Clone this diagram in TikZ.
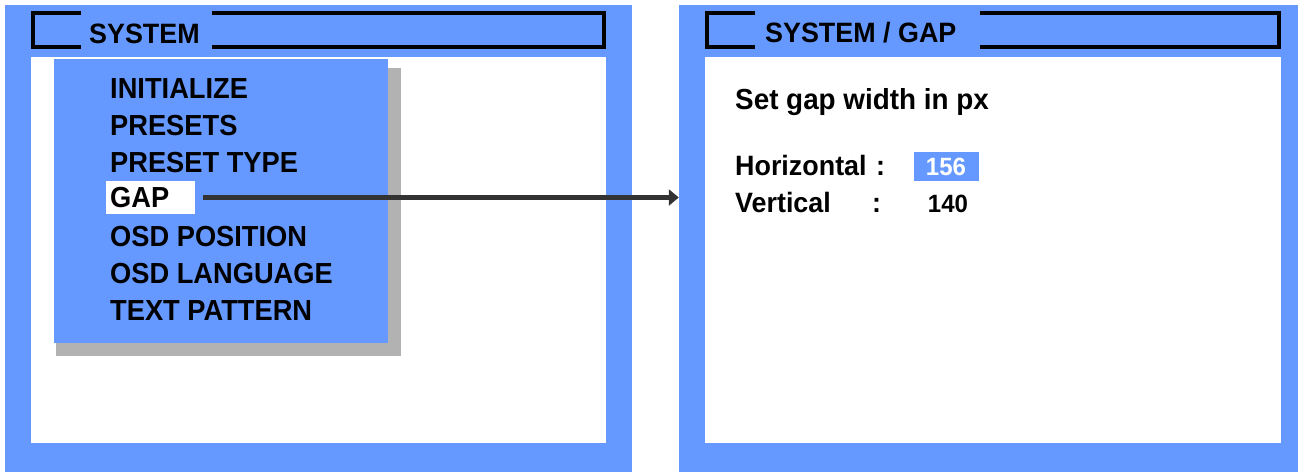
\documentclass[tikz,border=0pt]{standalone}
\usepackage{fontspec}
\setsansfont{Liberation Sans}[FakeStretch=0.94]
\newfontfamily\pagefont{Liberation Sans}[FakeStretch=0.96]
\usetikzlibrary{fit,arrows.meta}
\definecolor{osdblue}{HTML}{6699FF}
\definecolor{osdshadow}{HTML}{B2B2B2}
\definecolor{osdarrow}{HTML}{333333}
\tikzset{
  panel/.style={fill=osdblue, inner sep=0pt, draw=none},
  screen/.style={fill=white, inner sep=0pt, draw=none},
  frameline/.style={draw=black, line width=4pt, line cap=rect},
  osdtext/.style={anchor=base west, inner sep=0pt, text=black,
    font=\pagefont\bfseries\fontsize{28}{28}\selectfont},
  hinttext/.style={osdtext, font=\pagefont\bfseries\fontsize{29}{29}\selectfont},
  menuitem/.style={anchor=base west, inner sep=0pt, text=black,
    font=\sffamily\bfseries\fontsize{29}{29}\selectfont},
  valuetext/.style={anchor=base, inner sep=0pt,
    font=\pagefont\bfseries\fontsize{25}{25}\selectfont},
  link/.style={draw=osdarrow, line width=4.5pt,
    -{Triangle[length=10pt,width=16pt]}}
}
\begin{document}
\begin{tikzpicture}[x=1pt, y=-1pt]
\useasboundingbox (0,0) rectangle (1298,472);

% ---- left screen: SYSTEM menu ----
\node[panel, fit={(5,5) (632,472)}] (leftpanel) {};
\node[screen, fit={(31,57) (606,443)}] (leftscreen) {};
\draw[frameline] (79,13) -- (33,13) -- (33,47) -- (79,47);
\draw[frameline] (214,13) -- (604,13) -- (604,47) -- (214,47);
\node[osdtext] (lefttitle) at (89,43) {SYSTEM};

\node[fill=osdshadow, inner sep=0pt, fit={(56,68) (401,356)}] (menushadow) {};
\node[panel, fit={(54,59) (388,343)}] (menu) {};
\node[screen, fit={(106,181) (195,214)}] (gapitem) {};

\node[menuitem] (m1) at (110,98)  {INITIALIZE};
\node[menuitem] (m2) at (110,135) {PRESETS};
\node[menuitem] (m3) at (110,172) {PRESET TYPE};
\node[menuitem] (m4) at (110,207) {GAP};
\node[menuitem] (m5) at (110,246) {OSD POSITION};
\node[menuitem] (m6) at (110,283) {OSD LANGUAGE};
\node[menuitem] (m7) at (110,320) {TEXT PATTERN};

% ---- right screen: SYSTEM / GAP page ----
\node[panel, fit={(679,5) (1298,472)}] (rightpanel) {};
\node[screen, fit={(705,57) (1281,443)}] (rightscreen) {};
\draw[frameline] (753,13) -- (707,13) -- (707,47) -- (753,47);
\draw[frameline] (982,13) -- (1279,13) -- (1279,47) -- (982,47);
\node[osdtext] (righttitle) at (765,42) {SYSTEM / GAP};

\node[hinttext] (hint) at (735,109) {Set gap width in px};
\node[osdtext] (hlabel) at (735,175) {Horizontal};
\node[osdtext] (hcolon) at (876,175) {:};
\node[osdtext] (vlabel) at (735,212) {Vertical};
\node[osdtext] (vcolon) at (872,212) {:};
\node[panel, fit={(914,152) (979,181)}] (hvaluebox) {};
\node[valuetext, text=white] (hvalue) at (946,175) {156};
\node[valuetext, text=black] (vvalue) at (948,212) {140};

% ---- selection link ----
\draw[link] ([xshift=8pt]gapitem.east) -- (gapitem.east -| rightpanel.west);
\end{tikzpicture}
\end{document}
